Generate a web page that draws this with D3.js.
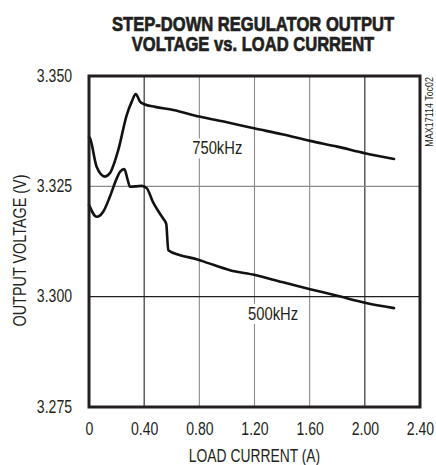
<!DOCTYPE html>
<html><head><meta charset="utf-8">
<script src="https://cdn.jsdelivr.net/npm/d3@7/dist/d3.min.js"></script>
<style>
body{margin:0;background:#fff;}
svg{display:block;}
</style></head>
<body><svg id="c" width="436" height="465"></svg>
<script>
const xTicks = [0, 0.4, 0.8, 1.2, 1.6, 2.0, 2.4];
const xTickLabels = ["0", "0.40", "0.80", "1.20", "1.60", "2.00", "2.40"];
const yTicks = [3.275, 3.300, 3.325, 3.350];
const yTickLabels = ["3.275", "3.300", "3.325", "3.350"];

const current750 = [0, 0.007, 0.056, 0.116, 0.152, 0.212, 0.273, 0.310, 0.339, 0.370, 0.401, 0.479, 0.611, 0.80, 1.0, 1.204, 1.4, 1.603, 1.8, 2.001, 2.212];
const voltage750 = [3.3362, 3.3359, 3.3294, 3.3272, 3.3280, 3.3332, 3.3411, 3.3442, 3.3459, 3.3442, 3.3436, 3.3430, 3.3423, 3.3408, 3.3395, 3.3381, 3.3368, 3.3353, 3.3340, 3.3325, 3.3312];

const current500 = [0, 0.056, 0.104, 0.152, 0.201, 0.225, 0.256, 0.281, 0.297, 0.382, 0.418, 0.466, 0.510, 0.540, 0.560, 0.575, 0.660, 0.781, 0.865, 1.022, 1.204, 1.4, 1.603, 1.8, 2.001, 2.212];
const voltage500 = [3.3208, 3.3181, 3.3193, 3.3227, 3.3268, 3.3283, 3.3289, 3.3264, 3.3249, 3.3251, 3.3246, 3.3213, 3.3190, 3.3176, 3.3165, 3.3105, 3.3094, 3.3085, 3.3076, 3.3060, 3.3049, 3.3033, 3.3017, 3.3002, 3.2986, 3.2974];

const seriesNames = ["750kHz", "500kHz"];

const svg = d3.select("#c");
const L = 89, R = 420, T = 76, B = 407;
const x = d3.scaleLinear().domain([0, 2.4]).range([L, R]);
const y = d3.scaleLinear().domain([3.275, 3.350]).range([B, T]);
const FONT = "'Liberation Sans', Arial, sans-serif";
const INK = "#231f20";

// condense a text element horizontally (emulates a condensed face)
function condense(sel, f) {
  sel.each(function () {
    const w = this.getComputedTextLength();
    d3.select(this).attr("textLength", w * f).attr("lengthAdjust", "spacingAndGlyphs");
  });
}

// title
const t1 = svg.append("text").attr("x", 253).attr("y", 30.5).attr("text-anchor", "middle")
  .attr("font-family", FONT).attr("font-weight", "bold").attr("font-size", 19.5).attr("fill", INK)
  .attr("stroke", INK).attr("stroke-width", 0.7)
  .text("STEP-DOWN REGULATOR OUTPUT");
const t2 = svg.append("text").attr("x", 253).attr("y", 51).attr("text-anchor", "middle")
  .attr("font-family", FONT).attr("font-weight", "bold").attr("font-size", 19.5).attr("fill", INK)
  .attr("stroke", INK).attr("stroke-width", 0.7)
  .text("VOLTAGE vs. LOAD CURRENT");
condense(t1, 0.85); condense(t2, 0.85);

// grid
const darkX = [0.4, 2.0];
svg.append("g").selectAll("line").data(xTicks.slice(1, -1)).join("line")
  .attr("x1", d => x(d)).attr("x2", d => x(d)).attr("y1", T).attr("y2", B)
  .attr("stroke", d => darkX.some(v => Math.abs(v - d) < 1e-6) ? INK : "#8a8a8a").attr("stroke-width", 1.1);
svg.append("g").selectAll("line").data(yTicks.slice(1, -1)).join("line")
  .attr("x1", L).attr("x2", R).attr("y1", d => y(d)).attr("y2", d => y(d))
  .attr("stroke", d => Math.abs(d - 3.300) < 1e-6 ? INK : "#8a8a8a").attr("stroke-width", 1.1);

// series labels with white background
function seriesLabel(txt, cx, cy) {
  const t = svg.append("text").attr("x", cx).attr("y", cy).attr("text-anchor", "middle")
    .attr("font-family", FONT).attr("font-size", 18).attr("fill", INK).text(txt);
  condense(t, 0.82);
  const bb = t.node().getBBox();
  svg.insert("rect", () => t.node()).attr("x", bb.x - 2).attr("y", bb.y)
    .attr("width", bb.width + 4).attr("height", bb.height).attr("fill", "#fff");
}
seriesLabel(seriesNames[0], x(0.93), y(3.3337) + 6.5);
seriesLabel(seriesNames[1], x(1.335), y(3.2962) + 6.5);

// curves
const line = d3.line().x(d => x(d[0])).y(d => y(d[1])).curve(d3.curveMonotoneX);
const d750 = current750.map((c, i) => [c, voltage750[i]]);
const d500 = current500.map((c, i) => [c, voltage500[i]]);
[d750, d500].forEach(d => {
  svg.append("path").datum(d).attr("d", line).attr("fill", "none")
    .attr("stroke", "#111").attr("stroke-width", 2.6).attr("stroke-linejoin", "round").attr("stroke-linecap", "round");
});

// frame
svg.append("rect").attr("x", L).attr("y", T).attr("width", R - L).attr("height", B - T)
  .attr("fill", "none").attr("stroke", INK).attr("stroke-width", 3);

// axes tick labels
const xAxis = d3.axisBottom(x).tickValues(xTicks).tickFormat((d, i) => xTickLabels[i]).tickSize(0).tickPadding(17);
const gx = svg.append("g").attr("transform", `translate(0,${B})`).call(xAxis);
gx.select(".domain").remove();
gx.selectAll("text").attr("font-family", FONT).attr("font-size", 18).attr("fill", INK).attr("dy", "0.62em");
condense(gx.selectAll("text"), 0.78);

const yAxis = d3.axisLeft(y).tickValues(yTicks).tickFormat((d, i) => yTickLabels[i]).tickSize(0).tickPadding(17);
const gy = svg.append("g").attr("transform", `translate(${L},0)`).call(yAxis);
gy.select(".domain").remove();
gy.selectAll("text").attr("font-family", FONT).attr("font-size", 18).attr("fill", INK).attr("dy", "0.28em");
condense(gy.selectAll("text"), 0.78);

// axis titles
const xt = svg.append("text").attr("x", x(1.2)).attr("y", 462).attr("text-anchor", "middle")
  .attr("font-family", FONT).attr("font-size", 18).attr("fill", INK).text("LOAD CURRENT (A)");
condense(xt, 0.77);
const yt = svg.append("text").attr("transform", `translate(26,${(T + B) / 2 + 9}) rotate(-90)`).attr("text-anchor", "middle")
  .attr("font-family", FONT).attr("font-size", 18).attr("fill", INK).text("OUTPUT VOLTAGE (V)");
condense(yt, 0.8);

// watermark
const wm = svg.append("text").attr("transform", `translate(433,${T + 1}) rotate(-90)`).attr("text-anchor", "end")
  .attr("font-family", FONT).attr("font-size", 10.5).attr("fill", INK).text("MAX17114 Toc02");
condense(wm, 0.85);
</script></body></html>
